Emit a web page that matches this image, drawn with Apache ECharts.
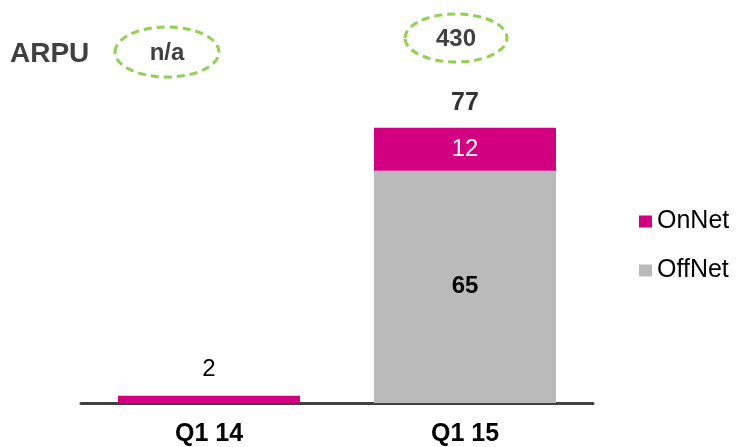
<!DOCTYPE html>
<html>
<head>
<meta charset="utf-8">
<script src="https://cdn.jsdelivr.net/npm/echarts@6/dist/echarts.min.js"></script>
<style>
html,body{margin:0;padding:0;background:#fff;}
#main{width:736px;height:447px;}
</style>
</head>
<body>
<div id="main"></div>
<script>
var categories = ['Q1 14', 'Q1 15'];
var onNet = [2, 12];
var offNet = [null, 65];
var totals = [null, 77];
var arpuLabel = 'ARPU';
var arpuValues = ['n/a', '430'];

var FONT = '"Liberation Sans", Arial, sans-serif';
var chart = echarts.init(document.getElementById('main'), null, {renderer: 'canvas'});

var onNetData = onNet.map(function (v, i) {
  if (offNet[i] == null) {
    return {value: v, label: {position: 'top', distance: 14, color: '#000', fontWeight: 'normal'}};
  }
  return {value: v, label: {position: 'inside', color: '#fff', fontWeight: 'normal'}};
});

function ellipse(cx, cy, rx, ry) {
  return {
    type: 'ellipse',
    shape: {cx: cx, cy: cy, rx: rx, ry: ry},
    style: {fill: 'none', stroke: '#92d050', lineWidth: 3, lineDash: [8, 5]},
    z: 10
  };
}
function txt(x, y, s, size) {
  return {
    type: 'text', x: x, y: y, z: 11,
    style: {text: s, fill: '#404040', font: 'bold ' + size + 'px ' + FONT, textAlign: 'center', textVerticalAlign: 'middle'}
  };
}

chart.setOption({
  animation: false,
  backgroundColor: '#fff',
  grid: {left: 81, right: 143, top: 117, bottom: 44, containLabel: false, outerBoundsMode: 'none'},
  legend: {
    data: ['OnNet', 'OffNet'],
    orient: 'vertical',
    left: 634,
    top: 204,
    icon: 'rect',
    itemWidth: 13,
    itemHeight: 12,
    itemGap: 24,
    textStyle: {fontFamily: FONT, fontSize: 25, color: '#000', padding: [0, 0, 0, 0]}
  },
  xAxis: {
    type: 'category',
    data: categories,
    axisLine: {lineStyle: {color: '#404040', width: 3}},
    axisTick: {show: false},
    axisLabel: {fontFamily: FONT, fontSize: 25, fontWeight: 'bold', color: '#000', margin: 19}
  },
  yAxis: {type: 'value', min: 0, max: 80, show: false, splitLine: {show: false}},
  series: [
    {
      name: 'OffNet', type: 'bar', stack: 'a', barWidth: 182,
      itemStyle: {color: '#bababa'},
      label: {show: true, position: 'inside', fontFamily: FONT, fontSize: 24, fontWeight: 'bold', color: '#000'},
      data: offNet
    },
    {
      name: 'OnNet', type: 'bar', stack: 'a', barWidth: 182,
      itemStyle: {color: '#d20080'},
      label: {show: true, fontFamily: FONT, fontSize: 24},
      data: onNetData
    },
    {
      name: 'Total', type: 'scatter', symbolSize: 1,
      itemStyle: {color: 'rgba(0,0,0,0)'},
      label: {show: true, position: 'top', distance: 12, fontFamily: FONT, fontSize: 25, fontWeight: 'bold', color: '#000'},
      data: totals
    }
  ],
  graphic: [
    {type: 'text', left: 10, top: 40, style: {text: arpuLabel, fill: '#404040', font: 'bold 28px ' + FONT}},
    ellipse(167, 52, 52, 25),
    txt(167, 53, arpuValues[0], 24),
    ellipse(456, 38, 51, 24),
    txt(456, 39, arpuValues[1], 24)
  ]
});
</script>
</body>
</html>
